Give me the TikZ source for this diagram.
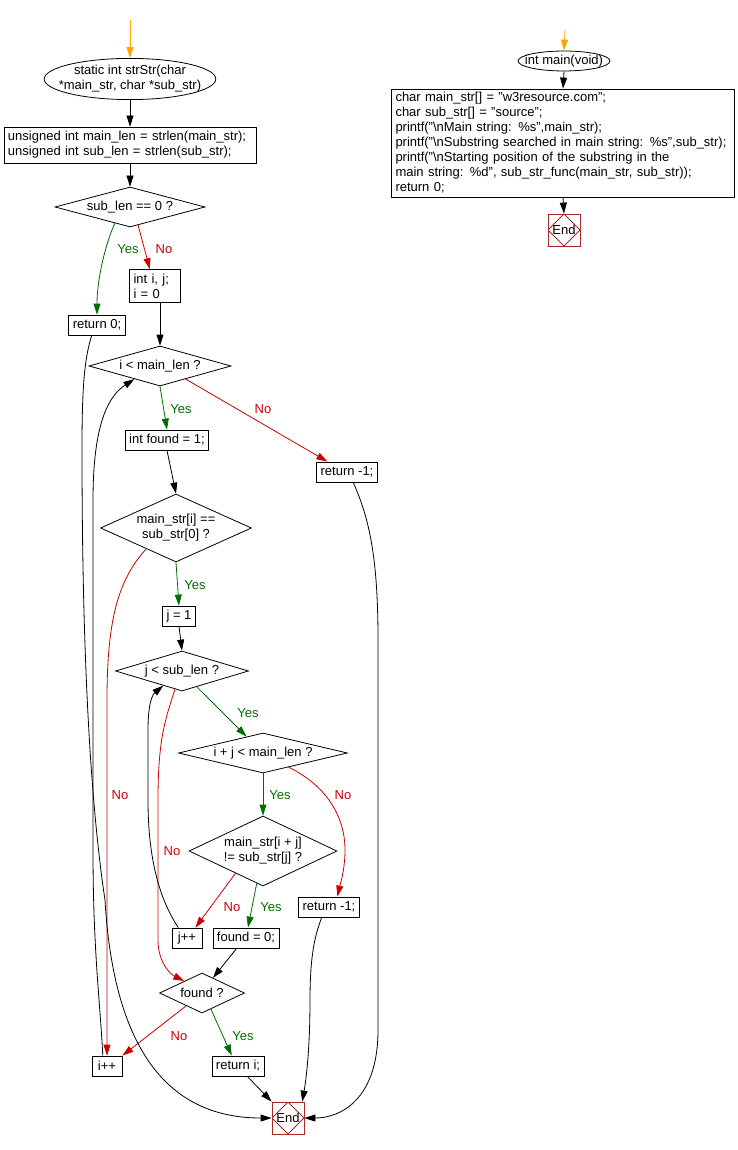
\documentclass[tikz,border=0pt]{standalone}
\usepackage{fontspec}
\setmainfont{Liberation Sans}
\usetikzlibrary{shapes.geometric,arrows.meta}

\definecolor{yesgreen}{RGB}{0,110,0}
\definecolor{nored}{RGB}{204,0,0}
\definecolor{startorange}{RGB}{255,165,0}
\definecolor{endred}{RGB}{170,40,40}

\begin{document}
\begin{tikzpicture}[x=1pt, y=-1pt, font=\fontsize{13}{15}\selectfont, line width=0.8pt,
  box/.style = {draw, rectangle, align=left, inner xsep=4pt, inner ysep=2pt, minimum height=20pt},
  term/.style = {draw, ellipse, align=center, inner ysep=1pt},
  cond/.style = {draw, diamond, align=center, inner sep=0pt},
  endbox/.style = {draw=endred, rectangle, minimum size=32pt, inner sep=0pt,
    path picture={\draw[endred] (path picture bounding box.north) -- (path picture bounding box.east)
      -- (path picture bounding box.south) -- (path picture bounding box.west) -- cycle;}},
  flow/.style = {-{Triangle[length=11pt, width=7pt]}},
  yeslabel/.style = {text=yesgreen},
  nolabel/.style = {text=nored}]
\useasboundingbox (0,0) rectangle (738,1150);

% strStr
\coordinate (start1) at (130,20);
\node[term, inner xsep=-10.5pt] (strstr) at (130,79) {static int strStr(char\\*main\_str, char *sub\_str)};
\node[box, text width=244pt, minimum height=36pt] (lens) at (130,145) {unsigned int main\_len = strlen(main\_str);\\unsigned int sub\_len = strlen(sub\_str);};
\node[cond, minimum width=150pt, minimum height=40pt, aspect=3.75] (subzero) at (130,207) {sub\_len == 0 ?};
\node[box, text width=43pt, minimum height=33pt] (initij) at (155,286) {int i, j;\\i = 0};
\node[box] (retzero) at (97,325) {return 0;};
\node[cond, minimum width=142pt, minimum height=40pt, aspect=3.5] (iloop) at (160,366) {i < main\_len ?};
\node[box] (found1) at (167,440) {int found = 1;};
\node[box] (retneg1) at (347,472) {return -1;};
\node[cond, minimum width=151pt, minimum height=68pt, aspect=2.2] (firstch) at (176,528) {main\_str[i] ==\\sub\_str[0] ?};
\node[box] (jone) at (179,616) {j = 1};
\node[cond, minimum width=133pt, minimum height=40pt, aspect=3.3] (jloop) at (182,671) {j < sub\_len ?};
\node[cond, minimum width=169pt, minimum height=40pt, aspect=4.2] (ijlen) at (263,753) {i + j < main\_len ?};
\node[cond, minimum width=148pt, minimum height=70pt, aspect=2.1] (mismatch) at (263,851) {main\_str[i + j]\\!= sub\_str[j] ?};
\node[box] (retneg2) at (329,907) {return -1;};
\node[box, minimum width=30pt] (jinc) at (187,938) {j++};
\node[box] (found0) at (246,938) {found = 0;};
\node[cond, minimum width=85pt, minimum height=40pt, aspect=2.1] (isfound) at (202,993) {found ?};
\node[box, minimum width=30pt] (iinc) at (107,1066) {i++};
\node[box] (reti) at (238,1066) {return i;};
\node[endbox] (end1) at (288,1118) {End};

% main
\coordinate (start2) at (565,30);
\node[term, inner xsep=-6.5pt] (mainfn) at (564,61) {int main(void)};
\node[box, text width=335pt, minimum height=108pt] (body) at (563,143) {char main\_str[] = "w3resource.com";\\
char sub\_str[] = "source";\\
printf("\textbackslash nMain string: \%s",main\_str);\\
printf("\textbackslash nSubstring searched in main string: \%s",sub\_str);\\
printf("\textbackslash nStarting position of the substring in the\\
main string: \%d", sub\_str\_func(main\_str, sub\_str));\\
return 0;};
\node[endbox] (end2) at (564,230) {End};

% labels
\node[yeslabel] (y1) at (128,249) {Yes};
\node[nolabel] (n1) at (164,249) {No};
\node[yeslabel] (y2) at (181,409) {Yes};
\node[nolabel] (n2) at (263,409) {No};
\node[yeslabel] (y3) at (195,585) {Yes};
\node[nolabel] (n3) at (120,795) {No};
\node[yeslabel] (y4) at (248,713) {Yes};
\node[yeslabel] (y5) at (280,795) {Yes};
\node[nolabel] (n4) at (343,795) {No};
\node[nolabel] (n5) at (172,851) {No};
\node[nolabel] (n6) at (232,907) {No};
\node[yeslabel] (y6) at (271,907) {Yes};
\node[nolabel] (n7) at (179,1036) {No};
\node[yeslabel] (y7) at (243,1036) {Yes};

% edges
\draw[flow, startorange] (start1) -- (strstr.north);
\draw[flow] (strstr.south) -- (lens.north);
\draw[flow] (lens.south) -- (subzero.north);
\draw[flow, yesgreen] (subzero.227) .. controls (105,245) and (97,280) .. (retzero.north);
\draw[flow, nored] (subzero.-66) -- (initij.107);
\draw[flow] (iloop.north |- initij.south) -- (iloop.north);
\draw[flow, yesgreen] (iloop.south) -- (found1.north);
\draw[flow, nored] (iloop.-27) -- (retneg1.152);
\draw[flow] (found1.south) -- (firstch.north);
\draw[flow, yesgreen] (firstch.south) -- (jone.north);
\draw[flow, nored] (firstch.215) .. controls (118,580) and (107,620) .. (107,700) -- (iinc.north);
\draw[flow] (jone.south) -- (jloop.north);
\draw[flow, yesgreen] (jloop.-47) -- (ijlen.135);
\draw[flow, nored] (jloop.249) .. controls (165,720) and (158,740) .. (158,800) -- (158,940)
  .. controls (158,962) and (170,974) .. (isfound.146);
\draw[flow, yesgreen] (ijlen.south) -- (mismatch.north);
\draw[flow, nored] (ijlen.-29) .. controls (325,785) and (345,815) .. (345,850)
  .. controls (345,870) and (340,885) .. (retneg2.51);
\draw[flow, nored] (mismatch.219) -- (jinc.51);
\draw[flow, yesgreen] (mismatch.-101) -- ([xshift=2pt]found0.north);
\draw[flow] (jinc.130) .. controls (160,900) and (148,860) .. (148,800) -- (148,730)
  .. controls (148,705) and (152,695) .. (jloop.218);
\draw[flow] (found0.228) -- (isfound.54);
\draw[flow] (retneg2.235) .. controls (315,935) and (310,955) .. (310,1000)
  .. controls (310,1050) and (306,1080) .. (end1.49);
\draw[flow, nored] (isfound.219) -- (iinc.north east);
\draw[flow, yesgreen] (isfound.-61) -- (reti.121);
\draw[flow] (reti.-48) -- (end1.north west);
\draw[flow] (retneg1.-59) .. controls (370,520) and (378,560) .. (378,640) -- (378,1030)
  .. controls (378,1100) and (340,1118) .. (end1.east);
\draw[flow] (retzero.243) .. controls (84,360) and (82,390) .. (82,450)
  .. controls (82,650) and (90,800) .. (105,900)
  .. controls (112,1020) and (150,1118) .. (end1.west);
\draw[flow] (iinc.112) .. controls (100,1000) and (93,950) .. (93,850) -- (93,500)
  .. controls (93,420) and (110,395) .. (iloop.207);

\draw[flow, startorange] (start2) -- (mainfn.north);
\draw[flow] (mainfn.south) -- (body.north);
\draw[flow] (body.south) -- (end2.north);
\end{tikzpicture}
\end{document}
